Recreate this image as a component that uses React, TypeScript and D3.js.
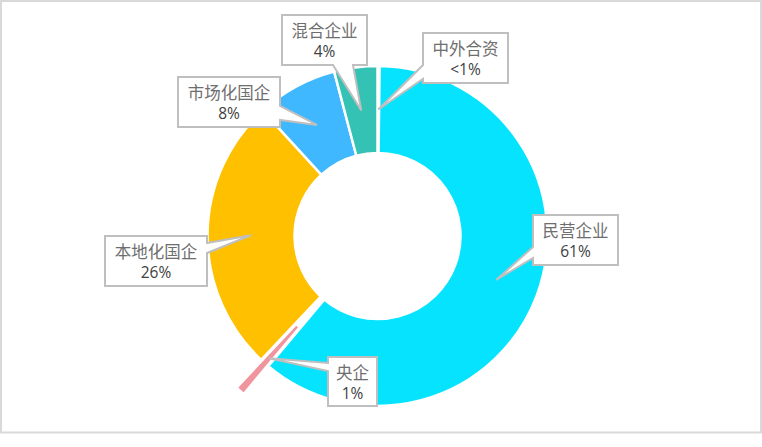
import React from "react";
import * as d3 from "d3";

// ---- data ----
const categories = ["中外合资", "民营企业", "央企", "本地化国企", "市场化国企", "混合企业"];
const shares = [0.2, 60.9, 0.9, 26.2, 7.7, 4.1];
const pctLabels = ["<1%", "61%", "1%", "26%", "8%", "4%"];
const sliceColors = ["#ffffff", "#05E3FE", "#F0959E", "#FFC000", "#40B8FF", "#33C2B4"];
const exploded = [0, 0, 1, 0, 0, 0];

// ---- layout ----
const W = 762;
const H = 447;
const cx = 377.5;
const cy = 236;
const outerR = 170;
const innerR = 83;
const explodeDist = 37;

type Box = { x: number; y: number; w: number; h: number; side: "left" | "right" | "bottom"; b1: number; b2: number };
const boxes: Box[] = [
  { x: 423, y: 33, w: 85, h: 50, side: "left", b1: 65, b2: 79 },
  { x: 533, y: 215, w: 85, h: 50, side: "left", b1: 247, b2: 258 },
  { x: 328, y: 357, w: 49, h: 49, side: "left", b1: 363, b2: 371 },
  { x: 105, y: 236, w: 102, h: 50, side: "right", b1: 243, b2: 253 },
  { x: 178, y: 77, w: 102, h: 50, side: "right", b1: 106, b2: 120 },
  { x: 282, y: 15, w: 85, h: 50, side: "bottom", b1: 333, b2: 353 },
];

function calloutPath(b: Box, tip: [number, number]) {
  const { x, y, w, h } = b;
  const p = d3.path();
  p.moveTo(x, y);
  p.lineTo(x + w, y);
  if (b.side === "right") {
    p.lineTo(x + w, b.b1);
    p.lineTo(tip[0], tip[1]);
    p.lineTo(x + w, b.b2);
  }
  p.lineTo(x + w, y + h);
  if (b.side === "bottom") {
    p.lineTo(b.b2, y + h);
    p.lineTo(tip[0], tip[1]);
    p.lineTo(b.b1, y + h);
  }
  p.lineTo(x, y + h);
  if (b.side === "left") {
    p.lineTo(x, b.b2);
    p.lineTo(tip[0], tip[1]);
    p.lineTo(x, b.b1);
  }
  p.closePath();
  return p.toString();
}

export default function App() {
  const pie = d3
    .pie<number>()
    .sort(null)
    .value((d) => d)
    .startAngle(0)
    .endAngle(2 * Math.PI);
  const arcs = pie(shares);
  const arc = d3.arc<d3.PieArcDatum<number>>().innerRadius(innerR).outerRadius(outerR);

  const offsets = arcs.map((a, i) => {
    const mid = (a.startAngle + a.endAngle) / 2;
    const d = exploded[i] ? explodeDist : 0;
    return [d * Math.sin(mid), -d * Math.cos(mid)] as [number, number];
  });

  return (
    <div style={{ position: "absolute", left: 0, top: 0 }}>
      <svg width={W} height={H} style={{ display: "block" }}>
        <rect x={0} y={0} width={W} height={H} fill="#ffffff" />
        <rect x={1} y={1} width={760} height={431.5} fill="#ffffff" stroke="#d9d9d9" strokeWidth={2} />
        <g transform={`translate(${cx},${cy})`}>
          {arcs.map((a, i) => (
            <path
              key={categories[i]}
              d={arc(a) || ""}
              transform={`translate(${offsets[i][0]},${offsets[i][1]})`}
              fill={sliceColors[i]}
              stroke="#ffffff"
              strokeWidth={2.5}
              strokeLinejoin="miter"
            />
          ))}
        </g>
        {arcs.map((a, i) => {
          const c = arc.centroid(a);
          const tip: [number, number] = [cx + c[0] + offsets[i][0], cy + c[1] + offsets[i][1]];
          const b = boxes[i];
          const tx = b.x + b.w / 2;
          return (
            <g key={"lab" + i}>
              <path d={calloutPath(b, tip)} fill="#ffffff" stroke="#bfbfbf" strokeWidth={2} strokeLinejoin="miter" />
              <text
                x={tx}
                y={b.y + 21.5}
                textAnchor="middle"
                fontFamily="'Noto Sans CJK SC', sans-serif"
                fontSize={16.5}
                fill="#6e6e6e"
              >
                {categories[i]}
              </text>
              <text
                x={tx}
                y={b.y + 42}
                textAnchor="middle"
                fontFamily="'Open Sans', 'Liberation Sans', sans-serif"
                fontSize={15.5}
                fill="#404040"
              >
                {pctLabels[i]}
              </text>
            </g>
          );
        })}
      </svg>
    </div>
  );
}
